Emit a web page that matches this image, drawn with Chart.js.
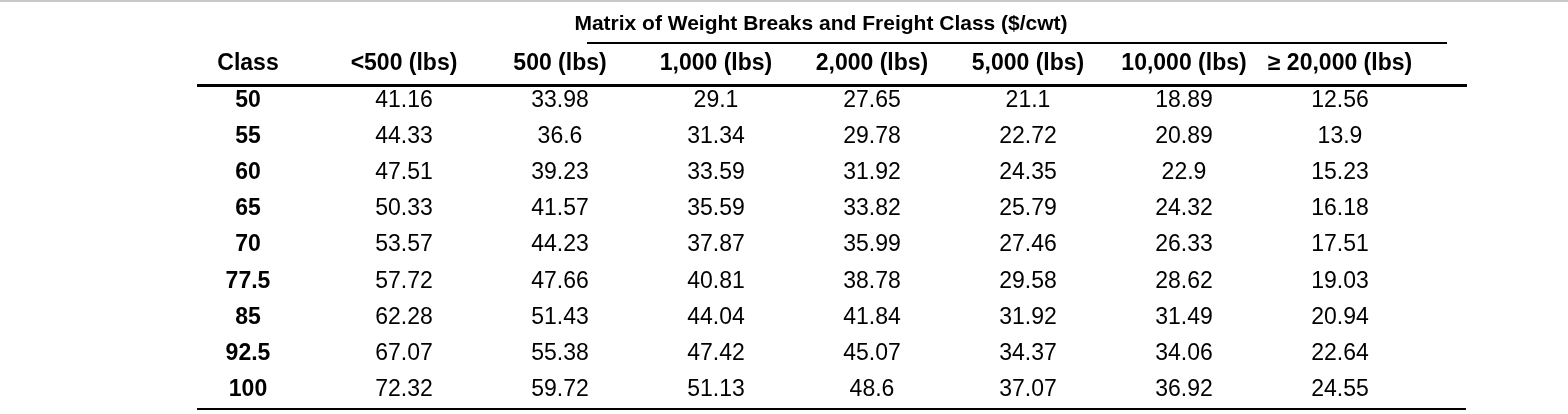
<!DOCTYPE html>
<html lang="en">
<head>
<meta charset="UTF-8">
<title>Matrix of Weight Breaks and Freight Class</title>
<script src="https://cdn.jsdelivr.net/npm/chart.js"></script>
<style>
    html, body { margin: 0; padding: 0; background: #fff; }
    #wrap { width: 1568px; height: 414px; }
</style>
</head>
<body>
<div id="wrap"><canvas id="matrixChart" width="1568" height="414"></canvas></div>
<script>
const title = 'Matrix of Weight Breaks and Freight Class ($/cwt)';
const columns = ['Class', '<500 (lbs)', '500 (lbs)', '1,000 (lbs)', '2,000 (lbs)', '5,000 (lbs)', '10,000 (lbs)', '\u2265 20,000 (lbs)'];
const classes = ['50', '55', '60', '65', '70', '77.5', '85', '92.5', '100'];
const under500 = [41.16, 44.33, 47.51, 50.33, 53.57, 57.72, 62.28, 67.07, 72.32];
const lbs500 = [33.98, 36.6, 39.23, 41.57, 44.23, 47.66, 51.43, 55.38, 59.72];
const lbs1000 = [29.1, 31.34, 33.59, 35.59, 37.87, 40.81, 44.04, 47.42, 51.13];
const lbs2000 = [27.65, 29.78, 31.92, 33.82, 35.99, 38.78, 41.84, 45.07, 48.6];
const lbs5000 = [21.1, 22.72, 24.35, 25.79, 27.46, 29.58, 31.92, 34.37, 37.07];
const lbs10000 = [18.89, 20.89, 22.9, 24.32, 26.33, 28.62, 31.49, 34.06, 36.92];
const lbs20000 = [12.56, 13.9, 15.23, 16.18, 17.51, 19.03, 20.94, 22.64, 24.55];

const valueSeries = [under500, lbs500, lbs1000, lbs2000, lbs5000, lbs10000, lbs20000];
const rowLabels = ['header'].concat(classes);

// one point per cell, text drawn on top of it
const cells = [];
valueSeries.forEach((series, c) => {
    series.forEach((v, r) => {
        cells.push({ x: columns[c + 1], y: classes[r], v: v });
    });
});

const tablePlugin = {
    id: 'tableText',
    afterDatasetsDraw(chart) {
        const ctx = chart.ctx;
        const xs = chart.scales.x;
        const ys = chart.scales.y;
        ctx.save();
        ctx.textAlign = 'center';
        ctx.textBaseline = 'middle';

        // rules
        ctx.fillStyle = '#c8c8c8';
        ctx.fillRect(0, 0, 1568, 2);
        ctx.fillStyle = '#000';
        ctx.fillRect(587, 42, 860, 2);
        ctx.fillRect(197, 84, 1270, 3);
        ctx.fillRect(197, 408, 1269, 2);

        ctx.font = 'bold 21px "Liberation Sans", Arial, sans-serif';
        ctx.fillText(title, 821, 24);

        ctx.font = 'bold 23px "Liberation Sans", Arial, sans-serif';
        const headY = ys.getPixelForValue(0);
        columns.forEach((c, i) => {
            ctx.fillText(c, xs.getPixelForValue(i), headY);
        });
        classes.forEach((c, i) => {
            ctx.fillText(c, xs.getPixelForValue(0), ys.getPixelForValue(i + 1));
        });

        ctx.font = '23px "Liberation Sans", Arial, sans-serif';
        const meta = chart.getDatasetMeta(0);
        meta.data.forEach((pt, i) => {
            ctx.fillText(String(cells[i].v), pt.x, pt.y);
        });
        ctx.restore();
    }
};

new Chart(document.getElementById('matrixChart').getContext('2d'), {
    type: 'scatter',
    data: {
        datasets: [{
            data: cells,
            pointRadius: 0,
            pointHoverRadius: 0
        }]
    },
    options: {
        responsive: false,
        animation: false,
        events: [],
        layout: { padding: { left: 170, right: 150, top: 46, bottom: 6 } },
        plugins: { legend: { display: false }, tooltip: { enabled: false } },
        scales: {
            x: { type: 'category', labels: columns, offset: true, display: false },
            y: { type: 'category', labels: rowLabels, offset: true, display: false }
        }
    },
    plugins: [tablePlugin]
});
</script>
</body>
</html>
